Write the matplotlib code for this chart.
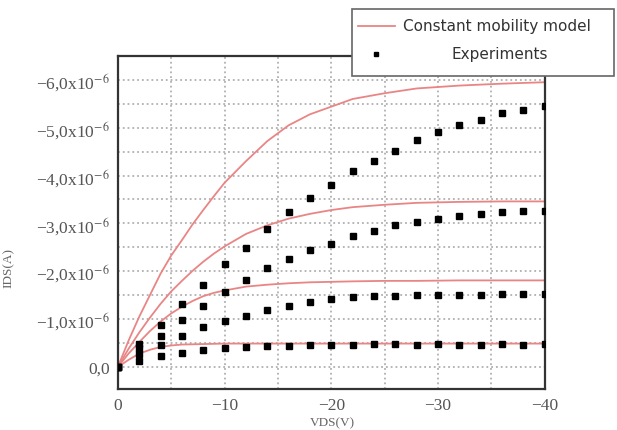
import numpy as np
import matplotlib
matplotlib.use("Agg")
import matplotlib.pyplot as plt
from matplotlib.lines import Line2D
from matplotlib.patches import Rectangle

plt.rcParams['mathtext.fontset'] = 'stix'

# model curves (constant mobility), |VDS| in V and |IDS| in uA
v_model = [0, 1, 2, 3, 4, 5, 6, 7, 8, 9, 10, 12, 14, 16, 18, 20, 22, 25, 28, 32, 36, 40]
model_a = [0, 0.15, 0.28, 0.36, 0.42, 0.45, 0.47, 0.475, 0.48, 0.485, 0.49, 0.49, 0.49, 0.49, 0.49, 0.49, 0.49, 0.49, 0.49, 0.49, 0.49, 0.49]
model_b = [0, 0.28, 0.52, 0.75, 0.95, 1.12, 1.26, 1.38, 1.48, 1.55, 1.60, 1.68, 1.72, 1.75, 1.77, 1.78, 1.79, 1.80, 1.80, 1.81, 1.81, 1.81]
model_c = [0, 0.38, 0.72, 1.03, 1.32, 1.58, 1.80, 2.01, 2.20, 2.37, 2.52, 2.78, 2.96, 3.10, 3.20, 3.28, 3.34, 3.39, 3.43, 3.45, 3.46, 3.46]
model_d = [0, 0.55, 1.05, 1.50, 1.95, 2.33, 2.65, 2.98, 3.28, 3.57, 3.85, 4.30, 4.72, 5.05, 5.28, 5.44, 5.60, 5.72, 5.82, 5.88, 5.92, 5.95]

# experiments
v_exp = [0, 2, 4, 6, 8, 10, 12, 14, 16, 18, 20, 22, 24, 26, 28, 30, 32, 34, 36, 38, 40]
exp_a = [0, 0.125, 0.23, 0.29, 0.35, 0.40, 0.42, 0.44, 0.44, 0.46, 0.46, 0.46, 0.48, 0.48, 0.46, 0.48, 0.46, 0.46, 0.48, 0.46, 0.48]
exp_b = [0, 0.27, 0.46, 0.65, 0.83, 0.96, 1.07, 1.19, 1.27, 1.35, 1.42, 1.46, 1.48, 1.48, 1.50, 1.50, 1.50, 1.50, 1.52, 1.52, 1.52]
exp_c = [0, 0.40, 0.65, 0.98, 1.27, 1.56, 1.81, 2.06, 2.25, 2.44, 2.58, 2.73, 2.85, 2.96, 3.02, 3.10, 3.15, 3.19, 3.23, 3.25, 3.27]
exp_d = [0, 0.48, 0.875, 1.31, 1.71, 2.15, 2.48, 2.875, 3.23, 3.54, 3.81, 4.10, 4.31, 4.52, 4.75, 4.92, 5.06, 5.17, 5.31, 5.38, 5.46]

x_ticks = [0, -10, -20, -30, -40]
x_labels = ["0", "\u221210", "\u221220", "\u221230", "\u221240"]
y_ticks = [0, -1, -2, -3, -4, -5, -6]
y_labels = ["0,0"] + ["\u2212%d,0x10$^{-6}$" % k for k in range(1, 7)]

fig = plt.figure(figsize=(6.17, 4.31), dpi=100)
ax = fig.add_axes([0.191, 0.095, 0.692, 0.773])

vm = -np.array(v_model)
for curve in [model_a, model_b, model_c, model_d]:
    ax.plot(vm, -np.array(curve) * 1e-6, color='#e98585', lw=1.3, zorder=2)

ve = -np.array(v_exp)
for pts in [exp_a, exp_b, exp_c, exp_d]:
    ax.plot(ve, -np.array(pts) * 1e-6, ls='none', marker='s', ms=4, color='black', zorder=3)

ax.set_xlim(0, -40)
ax.set_ylim(0.46e-6, -6.5e-6)

ax.set_xticks(x_ticks)
ax.set_xticklabels(x_labels)
ax.set_xticks([-5, -15, -25, -35], minor=True)
ax.set_yticks([t * 1e-6 for t in y_ticks])
ax.set_yticklabels(y_labels)
ax.set_yticks([-(k + 0.5) * 1e-6 for k in range(0, 6)], minor=True)
ax.tick_params(which='both', length=0)
ax.tick_params(axis='both', labelsize=12.5, labelcolor='#555555', pad=6)
for lab in ax.get_xticklabels() + ax.get_yticklabels():
    lab.set_family('Liberation Serif')

ax.grid(which='both', ls=':', color='#b0b0b0', lw=1.3)
for s in ax.spines.values():
    s.set_color('#333333')
    s.set_linewidth(1.6)

ax.set_xlabel("VDS(V)", family='Liberation Serif', fontsize=9.5, color='#666666')
ax.xaxis.set_label_coords(0.503, -0.082)
ax.set_ylabel("IDS(A)", family='Liberation Serif', fontsize=9.5, color='#666666')
ax.yaxis.set_label_coords(-0.241, 0.366)

# legend box drawn by hand
W, H = 617.0, 431.0
fig.patches.append(Rectangle((352 / W, 1 - 77 / H), 262 / W, 67 / H, transform=fig.transFigure,
                             facecolor='white', edgecolor='#666666', lw=1.2, zorder=10))
fig.lines.append(Line2D([358 / W, 395 / W], [1 - 27 / H, 1 - 27 / H], transform=fig.transFigure,
                        color='#e98585', lw=1.3, zorder=11))
fig.lines.append(Line2D([376 / W], [1 - 55 / H], transform=fig.transFigure, ls='none',
                        marker='s', ms=2.5, color='black', zorder=11))
fig.text(403 / W, 1 - 27 / H, "Constant mobility model", fontsize=11, color='#333333',
         va='center', ha='left', zorder=12)
fig.text(500 / W, 1 - 55 / H, "Experiments", fontsize=11, color='#333333',
         va='center', ha='center', zorder=12)

fig.savefig("out.png", dpi=100)
